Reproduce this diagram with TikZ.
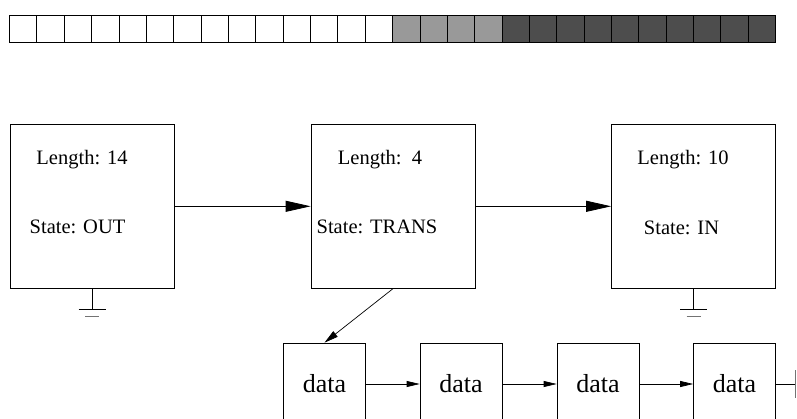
\documentclass[tikz,border=0pt]{standalone}
\usepackage{fontspec}
\setmainfont{Liberation Serif}
\usetikzlibrary{arrows.meta}
\definecolor{lightcell}{HTML}{999999}
\definecolor{darkcell}{HTML}{4D4D4D}
\begin{document}
\begin{tikzpicture}[x=1pt,y=-1pt,
  cell/.style={draw=black,line width=0.8pt},
  bigbox/.style={draw=black,line width=0.7pt,minimum width=164pt,minimum height=164pt,inner sep=0pt},
  databox/.style={draw=black,line width=0.7pt,minimum width=82pt,minimum height=82pt,inner sep=0pt,font=\fontsize{26}{30}\selectfont},
  lbl/.style={inner sep=0pt,font=\fontsize{20.5}{24}\selectfont},
  bigarrow/.style={line width=0.8pt,-{Triangle[length=25pt,width=11pt]}},
  smallarrow/.style={line width=0.7pt,-{Triangle[length=13pt,width=6pt]}},
  gnd/.style={line width=0.7pt}]
\clip (0,0) rectangle (797,419);
\fill[white] (0,0) rectangle (797,419);
% strip
\foreach \i in {0,...,27}{
  \pgfmathsetmacro{\xa}{9.5+\i*27.36}
  \pgfmathsetmacro{\xb}{9.5+(\i+1)*27.36}
  \ifnum\i<14 \def\cc{white}\else\ifnum\i<18 \def\cc{lightcell}\else\def\cc{darkcell}\fi\fi
  \filldraw[cell,fill=\cc] (\xa,15) rectangle (\xb,42);
}
% main boxes
\node[bigbox] (b1) at (92,206.3) {};
\node[bigbox] (b2) at (393,206.3) {};
\node[bigbox] (b3) at (693.5,206.3) {};
\node[lbl] (l1) at (82,160) {Length: 14};
\node[lbl] (s1) at (77.5,227) {State: OUT};
\node[lbl] (l2) at (380,160) {Length:\ \ 4};
\node[lbl] (s2) at (377,227) {State: TRANS};
\node[lbl] (l3) at (683,160) {Length: 10};
\node[lbl] (s3) at (681.5,228) {State: IN};
\draw[bigarrow] (b1.east) -- (b2.west);
\draw[bigarrow] (b2.east) -- (b3.west);
% grounds
\draw[gnd] (b1.south) -- ++(0,21) coordinate (g1);
\draw[gnd] ([xshift=-13.5pt]g1) -- ([xshift=13.5pt]g1);
\draw[gnd,black!55] ([xshift=-7pt,yshift=-6.7pt]g1) -- ([xshift=7pt,yshift=-6.7pt]g1);
\draw[gnd] (b3.south) -- ++(0,21) coordinate (g3);
\draw[gnd] ([xshift=-13.5pt]g3) -- ([xshift=13.5pt]g3);
\draw[gnd,black!55] ([xshift=-7pt,yshift=-6.7pt]g3) -- ([xshift=7pt,yshift=-6.7pt]g3);
% data boxes
\node[databox] (d1) at (324.5,384) {data};
\node[databox] (d2) at (461,384) {data};
\node[databox] (d3) at (598,384) {data};
\node[databox] (d4) at (734.5,384) {data};
\draw[line width=0.7pt,-{Triangle[length=14pt,width=7pt]}] (b2.south) -- (d1.north);
\draw[smallarrow] (d1.east) -- (d2.west);
\draw[smallarrow] (d2.east) -- (d3.west);
\draw[smallarrow] (d3.east) -- (d4.west);
\draw[gnd] (d4.east) -- ++(19.5,0) coordinate (e4);
\draw[line width=1.5pt,black!55] ([yshift=14pt]e4) -- ([yshift=-14pt]e4);
\end{tikzpicture}
\end{document}
